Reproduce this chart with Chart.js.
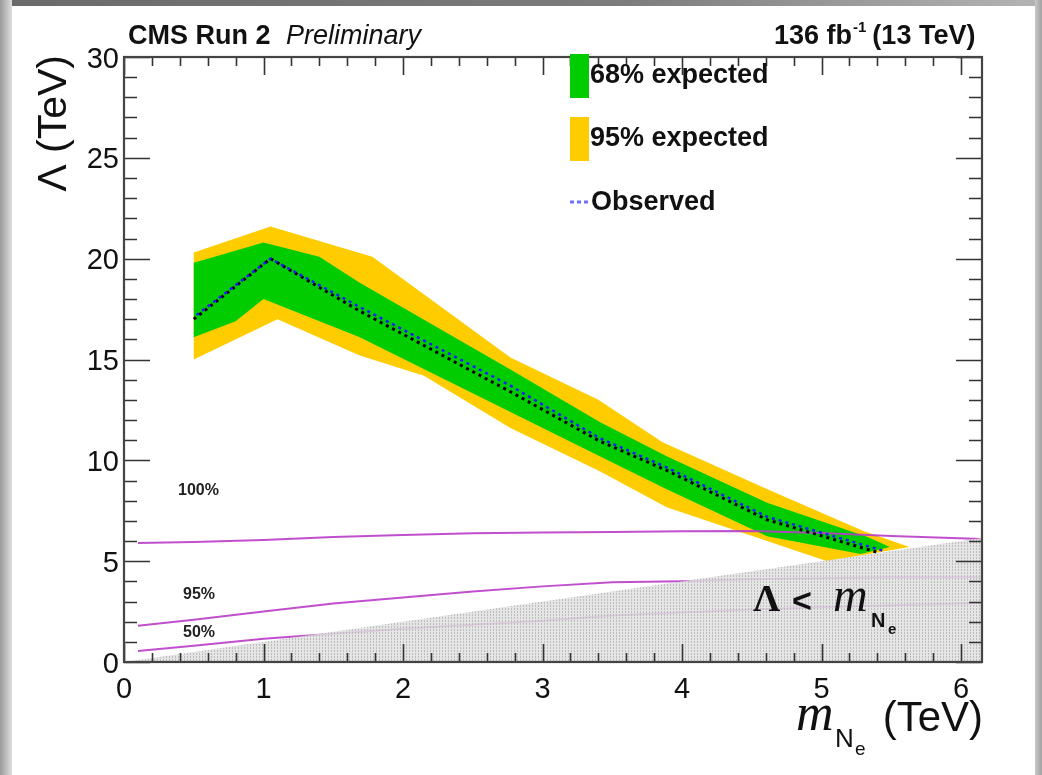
<!DOCTYPE html>
<html>
<head>
<meta charset="utf-8">
<script src="https://cdn.jsdelivr.net/npm/chart.js@4"></script>
<style>
html, body { margin: 0; padding: 0; background: #fff; }
#wrap { width: 1042px; height: 775px; position: relative; }
</style>
</head>
<body>
<div id="wrap"><canvas id="chart"></canvas></div>
<script>
// values, m_N (TeV) vs Lambda (TeV)
const band95UpperX = [0.5, 1.05, 1.78, 2.77, 3.4, 3.86, 4.6, 5.3, 5.63];
const band95UpperY = [20.3, 21.6, 20.1, 15.1, 13.0, 10.9, 8.6, 6.5, 5.7];
const band95LowerX = [0.5, 1.1, 1.69, 2.15, 2.77, 3.41, 3.89, 4.61, 5.04];
const band95LowerY = [15.0, 17.0, 15.2, 14.2, 11.6, 9.46, 7.67, 6.0, 5.0];

const band68UpperX = [0.5, 1.0, 1.4, 1.69, 2.77, 3.41, 3.89, 4.61, 5.33, 5.49];
const band68UpperY = [19.8, 20.8, 20.1, 18.8, 14.5, 11.9, 10.2, 7.9, 6.2, 5.7];
const band68LowerX = [0.5, 0.8, 1.0, 1.69, 2.77, 3.41, 3.89, 4.61, 5.28];
const band68LowerY = [16.1, 16.9, 18.0, 16.1, 12.4, 10.2, 8.56, 6.24, 5.35];

const expectedX = [0.5, 1.05, 1.69, 2.77, 3.41, 3.89, 4.61, 5.4];
const expectedY = [17.0, 20.0, 17.4, 13.4, 10.95, 9.5, 7.05, 5.44];
const observedX = [0.5, 1.05, 1.69, 2.77, 3.41, 3.89, 4.61, 5.45];
const observedY = [17.1, 20.0, 17.6, 13.7, 11.1, 9.65, 7.2, 5.5];

const contourX = [0.1, 0.5, 1, 1.5, 2, 2.5, 3, 3.5, 4, 4.5, 5, 5.5, 6.15];
const contour100Y = [5.9, 5.95, 6.05, 6.2, 6.3, 6.38, 6.42, 6.45, 6.48, 6.5, 6.4, 6.25, 6.1];
const contour95Y = [1.8, 2.1, 2.5, 2.9, 3.2, 3.5, 3.75, 3.95, 4.0, 4.1, 4.15, 4.2, 4.2];
const contour50Y = [0.55, 0.8, 1.15, 1.4, 1.65, 1.85, 2.05, 2.3, 2.45, 2.6, 2.72, 2.82, 2.92];

// region Lambda < m_N
const excludedX = [0, 6.15, 6.15];
const excludedY = [0, 6.15, 0];

const xTickLabels = [0, 1, 2, 3, 4, 5, 6];
const yTickLabels = [0, 5, 10, 15, 20, 25, 30];

function pts(xs, ys) {
    return xs.map((x, i) => ({ x: x, y: ys[i] }));
}
function polygon(ux, uy, lx, ly) {
    return pts(ux, uy).concat(pts(lx, ly).reverse());
}

const canvas = document.querySelector('#chart');
const ctx0 = canvas.getContext('2d');

// dotted grey texture for the excluded region
const pc = document.createElement('canvas');
pc.width = 3; pc.height = 3;
const pg = pc.getContext('2d');
pg.fillStyle = 'rgba(224,224,224,0.85)';
pg.fillRect(0, 0, 3, 3);
pg.fillStyle = 'rgba(185,185,185,0.9)';
pg.fillRect(1, 0, 1, 1);
pg.fillRect(1, 2, 1, 1);
const hatch = ctx0.createPattern(pc, 'repeat');

const SANS = '"Liberation Sans", Arial, sans-serif';
const SERIF = '"Liberation Serif", "Times New Roman", serif';

function contour(ys) {
    return {
        data: pts(contourX, ys),
        borderColor: 'rgba(185,60,200,0.9)',
        borderWidth: 2,
        fill: false,
        order: 4
    };
}

const decor = {
    id: 'decor',
    beforeDraw(chart) {
        const c = chart.ctx;
        c.save();
        c.fillStyle = '#fff';
        c.fillRect(0, 0, chart.width, chart.height);
        let g = c.createLinearGradient(0, 0, 1042, 0);
        g.addColorStop(0, '#6a6a6a');
        g.addColorStop(0.6, '#7c7c7c');
        g.addColorStop(1, '#b4b4b4');
        c.fillStyle = g;
        c.fillRect(0, 0, 1042, 6);
        g = c.createLinearGradient(0, 0, 12, 0);
        g.addColorStop(0, '#9a9a9a');
        g.addColorStop(1, '#dedede');
        c.fillStyle = g;
        c.fillRect(0, 0, 12, 775);
        g = c.createLinearGradient(1035, 0, 1042, 0);
        g.addColorStop(0, '#c8c8c8');
        g.addColorStop(1, '#a0a0a0');
        c.fillStyle = g;
        c.fillRect(1035, 0, 7, 775);
        c.restore();
    },
    afterDraw(chart) {
        const c = chart.ctx;
        const a = chart.chartArea;
        const sx = chart.scales.x, sy = chart.scales.y;
        c.save();

        // ticks (inward, on all four sides)
        c.strokeStyle = '#333';
        c.lineWidth = 1.6;
        c.beginPath();
        for (let i = 0; i <= 31; i++) {
            const v = i * 0.2;
            if (v > sx.max) break;
            const px = Math.round(sx.getPixelForValue(v)) + 0.5;
            const len = (i % 5 === 0) ? 18 : 9;
            c.moveTo(px, a.bottom); c.lineTo(px, a.bottom - len);
            c.moveTo(px, a.top); c.lineTo(px, a.top + len);
        }
        for (let i = 0; i <= 30; i++) {
            const py = Math.round(sy.getPixelForValue(i)) + 0.5;
            const len = (i % 5 === 0) ? 26 : 13;
            c.moveTo(a.left, py); c.lineTo(a.left + len, py);
            c.moveTo(a.right, py); c.lineTo(a.right - len, py);
        }
        c.stroke();
        c.strokeStyle = '#444';
        c.lineWidth = 2.2;
        c.strokeRect(a.left, a.top, a.right - a.left, a.bottom - a.top);

        // tick labels
        c.fillStyle = '#111';
        c.font = '29px ' + SANS;
        c.textBaseline = 'alphabetic';
        c.textAlign = 'center';
        xTickLabels.forEach(v => c.fillText(String(v), sx.getPixelForValue(v), 698));
        c.textAlign = 'right';
        yTickLabels.forEach(v => c.fillText(String(v), 119, sy.getPixelForValue(v) + 10.5));

        // y title
        c.save();
        c.translate(66, 55);
        c.rotate(-Math.PI / 2);
        c.textAlign = 'right';
        c.font = '41px ' + SANS;
        c.fillText('\u039B (TeV)', 0, 0);
        c.restore();

        // x title
        c.textAlign = 'left';
        c.font = 'italic 52px ' + SERIF;
        c.fillText('m', 796, 730);
        c.font = '26px ' + SANS;
        c.fillText('N', 835, 747);
        c.font = '19px ' + SANS;
        c.fillText('e', 855, 755);
        c.textAlign = 'right';
        c.font = '42px ' + SANS;
        c.fillText('(TeV)', 983, 731);

        // header
        c.textAlign = 'left';
        c.font = 'bold 27px ' + SANS;
        c.fillText('CMS Run 2', 128, 44);
        c.font = 'italic 27px ' + SANS;
        c.fillText('Preliminary', 286, 44);
        c.font = 'bold 27px ' + SANS;
        let hx = 774;
        c.fillText('136 fb', hx, 44);
        hx += c.measureText('136 fb').width + 1;
        c.font = 'bold 15px ' + SANS;
        c.fillText('-1', hx, 32);
        hx += c.measureText('-1').width + 6;
        c.font = 'bold 27px ' + SANS;
        c.fillText('(13 TeV)', hx, 44);

        // legend
        const leg = chart.data.datasets;
        c.textAlign = 'left';
        c.font = 'bold 27px ' + SANS;
        c.fillStyle = leg[1].backgroundColor;
        c.fillRect(570, 54, 19, 44);
        c.fillStyle = leg[0].backgroundColor;
        c.fillRect(570, 117, 19, 44);
        c.fillStyle = '#111';
        c.fillText(leg[1].label, 590, 83);
        c.fillText(leg[0].label, 590, 146);
        c.strokeStyle = '#7070ff';
        c.lineWidth = 3;
        c.setLineDash([4, 3]);
        c.beginPath();
        c.moveTo(570, 202); c.lineTo(588, 202);
        c.stroke();
        c.setLineDash([]);
        c.fillText(leg[7].label, 591, 210);

        // contour labels
        c.font = 'bold 16px ' + SANS;
        c.fillStyle = '#222';
        c.fillText('100%', 178, 495);
        c.fillText('95%', 183, 599);
        c.fillText('50%', 183, 637);

        // Lambda < m_N region label
        c.fillStyle = '#111';
        c.font = 'bold 38px ' + SERIF;
        c.fillText('\u039B', 753, 611);
        c.font = 'bold 34px ' + SANS;
        c.fillText('<', 792, 612);
        c.font = 'italic 48px ' + SERIF;
        c.fillText('m', 833, 611);
        c.font = 'bold 20px ' + SANS;
        c.fillText('N', 871, 627);
        c.font = 'bold 15px ' + SANS;
        c.fillText('e', 888, 634);

        c.restore();
    }
};

new Chart(canvas, {
    type: 'line',
    data: {
        datasets: [
            {
                label: '95% expected',
                data: polygon(band95UpperX, band95UpperY, band95LowerX, band95LowerY),
                backgroundColor: '#ffcc00',
                borderWidth: 0,
                fill: 'shape',
                order: 6
            },
            {
                label: '68% expected',
                data: polygon(band68UpperX, band68UpperY, band68LowerX, band68LowerY),
                backgroundColor: '#00cc00',
                borderWidth: 0,
                fill: 'shape',
                order: 5
            },
            Object.assign({ label: '100%' }, contour(contour100Y)),
            Object.assign({ label: '95%' }, contour(contour95Y)),
            Object.assign({ label: '50%' }, contour(contour50Y)),
            {
                label: 'excluded',
                data: pts(excludedX, excludedY),
                backgroundColor: hatch,
                borderWidth: 0,
                fill: 'shape',
                order: 3
            },
            {
                label: 'Expected',
                data: pts(expectedX, expectedY),
                borderColor: '#000',
                borderWidth: 3,
                borderDash: [3, 4],
                fill: false,
                order: 2
            },
            {
                label: 'Observed',
                data: pts(observedX, observedY),
                borderColor: '#1c1cff',
                borderWidth: 2.5,
                borderDash: [3, 4],
                borderDashOffset: 3.5,
                fill: false,
                order: 1
            }
        ]
    },
    options: {
        responsive: true,
        maintainAspectRatio: false,
        animation: false,
        layout: { padding: { left: 124, top: 57, right: 60, bottom: 113 } },
        elements: { point: { radius: 0 }, line: { tension: 0 } },
        scales: {
            x: { type: 'linear', min: 0, max: 6.15, display: false },
            y: { type: 'linear', min: 0, max: 30, display: false }
        },
        plugins: {
            legend: { display: false },
            tooltip: { enabled: false }
        }
    },
    plugins: [decor]
});
</script>
</body>
</html>
